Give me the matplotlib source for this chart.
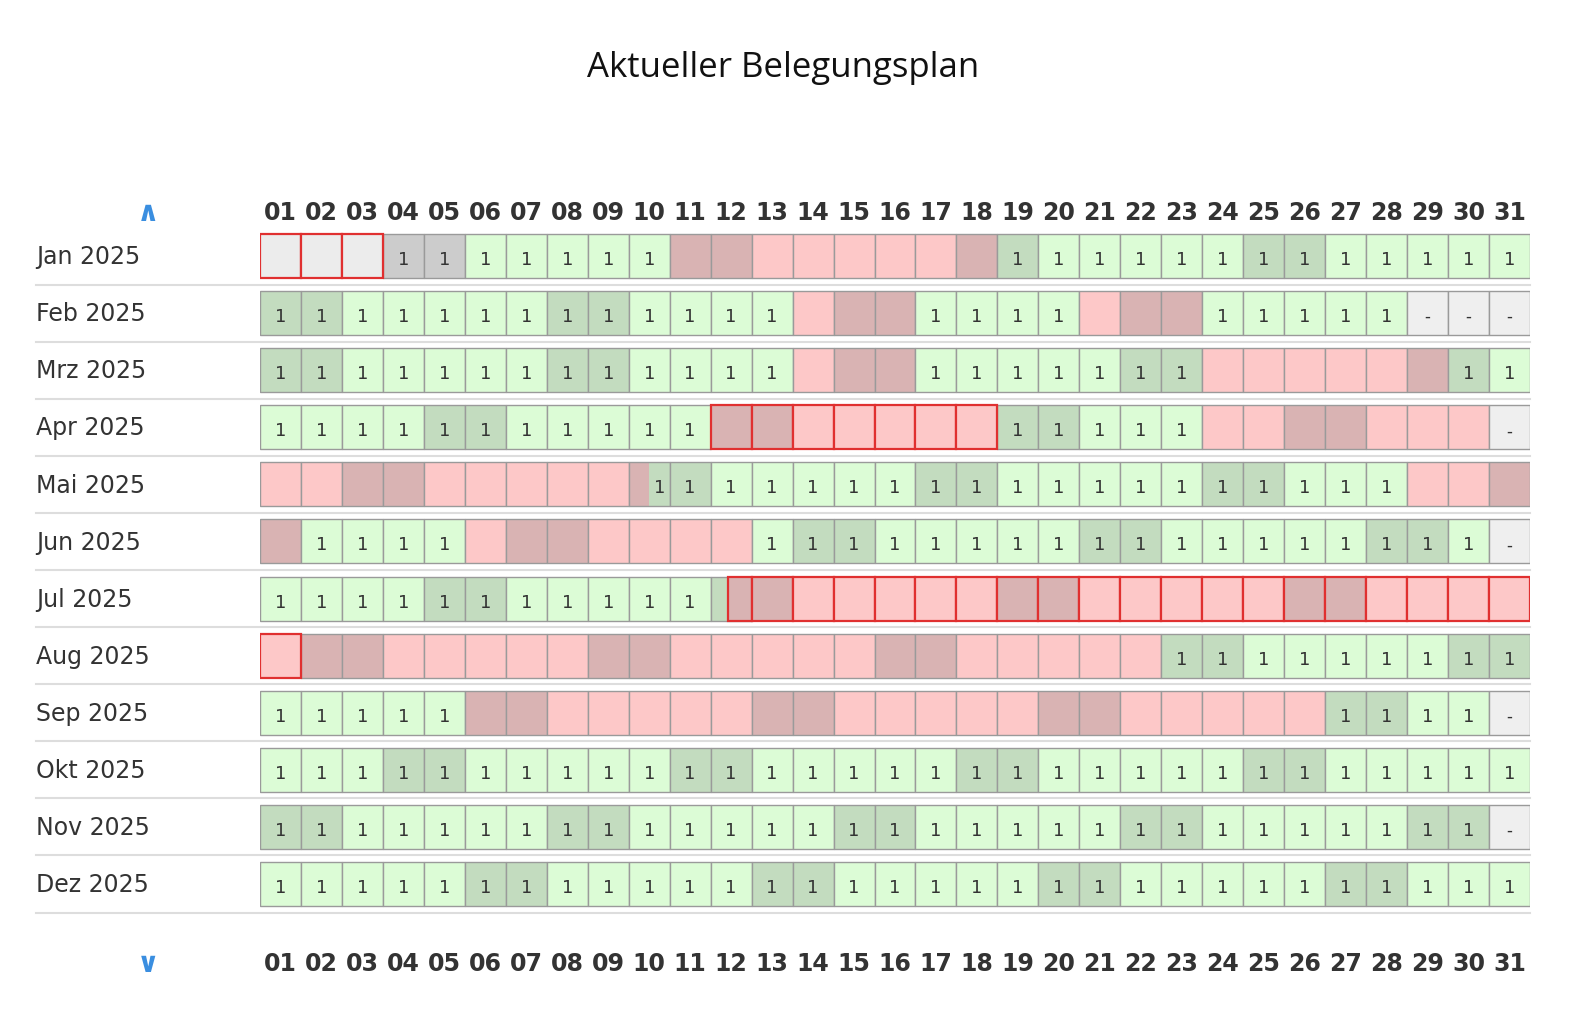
import calendar
import matplotlib
matplotlib.use("Agg")
import matplotlib.pyplot as plt
from matplotlib.patches import Rectangle
from matplotlib.transforms import blended_transform_factory

months = ["Jan 2025", "Feb 2025", "Mrz 2025", "Apr 2025", "Mai 2025", "Jun 2025",
          "Jul 2025", "Aug 2025", "Sep 2025", "Okt 2025", "Nov 2025", "Dez 2025"]
days = [f"{d:02d}" for d in range(1, 32)]
# state per day: 1 free, b booked, p past, g past-free, d depart (booked->free), a arrive (free->booked), - none
states = [
    "ppp gg11111bbbbbbbb1111111111111".replace(" ", ""),
    "1111111111111bbb1111bbb11111---",
    "1111111111111bbb1111111bbbbbb11",
    "11111111111bbbbbbb11111bbbbbbb-",
    "bbbbbbbbbd111111111111111111bbb",
    "b1111bbbbbbb111111111111111111-",
    "11111111111abbbbbbbbbbbbbbbbbbb",
    "bbbbbbbbbbbbbbbbbbbbbb111111111",
    "11111bbbbbbbbbbbbbbbbbbbbb1111-",
    "1111111111111111111111111111111",
    "111111111111111111111111111111-",
    "1111111111111111111111111111111",
]
red_border = {(0, 1), (0, 2), (0, 3), (7, 1)} | {(3, d) for d in range(12, 19)} | {(6, d) for d in range(12, 32)}

C_FREE, C_FREE_WE = "#dcfcd6", "#c3dcbf"
C_BOOK, C_BOOK_WE = "#fdc8c8", "#d9b3b3"
C_PAST, C_GRAY, C_NONE = "#ececec", "#cccccc", "#efefef"
EDGE = "#9a9a9a"

W, H = 1582, 1035
fig = plt.figure(figsize=(W / 100, H / 100), dpi=100)
ax = fig.add_axes([260 / W, 1 - 912.5 / H, 1270 / W, 685 / H])
ax.set_xlim(0.5, 31.5)
ax.set_ylim(11.5, -0.5)
ax.axis("off")
hh = 22 / 57.1

narrow = "Liberation Sans Narrow"
for r, s in enumerate(states):
    for i, ch in enumerate(s):
        d = i + 1
        we = ch != "-" and calendar.weekday(2025, r + 1, d) >= 5
        free = C_FREE_WE if we else C_FREE
        book = C_BOOK_WE if we else C_BOOK
        x0, y0 = d - 0.5, r - hh
        red = (r, d) in red_border
        if ch in "1bpg-":
            fc = {"1": free, "b": book, "p": C_PAST, "g": C_GRAY, "-": C_NONE}[ch]
            ax.add_patch(Rectangle((x0, y0), 1, 2 * hh, fc=fc,
                                   ec="#e03030" if red else EDGE, lw=1.6 if red else 1, zorder=3 if red else 2))
        elif ch == "d":
            ax.add_patch(Rectangle((x0, y0), 0.5, 2 * hh, fc=book, ec="none", zorder=2))
            ax.add_patch(Rectangle((x0 + 0.5, y0), 0.5, 2 * hh, fc=free, ec="none", zorder=2))
            ax.add_patch(Rectangle((x0, y0), 1, 2 * hh, fc="none", ec=EDGE, lw=1, zorder=2))
        elif ch == "a":
            ax.add_patch(Rectangle((x0, y0), 1, 2 * hh, fc=free, ec=EDGE, lw=1, zorder=2))
            ax.add_patch(Rectangle((x0 + 0.42, y0), 0.58, 2 * hh, fc=book,
                                   ec="#e03030" if red else "none", lw=1.6, zorder=3))
        if ch in "1gd":
            ax.text(d + (0.25 if ch == "d" else 0), r + 0.07, "1", ha="center", va="center",
                    fontsize=13, color="#333333", zorder=4)
        elif ch == "-":
            ax.text(d, r + 0.07, "-", ha="center", va="center", fontsize=12, color="#333333", zorder=4)
    ax.axhline(r + 0.5, xmin=(36 - 260) / 1270, xmax=1, color="#dddddd", lw=1.5, clip_on=False, zorder=1)

bt = blended_transform_factory(fig.transFigure, ax.transData)
for r, m in enumerate(months):
    ax.text(36 / W, r + 0.02, m, transform=bt, ha="left", va="center", fontsize=17,
            family=narrow, color="#333333")

for d, lab in enumerate(days, start=1):
    for ypx in (213, 964):
        ax.text(d, 1 - ypx / H, lab, transform=blended_transform_factory(ax.transData, fig.transFigure),
                ha="center", va="center", fontsize=17, family=narrow, weight="bold", color="#333333")

fig.text(148 / W, 1 - 213 / H, "∧", ha="center", va="center", fontsize=20, weight="bold", color="#3a8ee0")
fig.text(148 / W, 1 - 964 / H, "∨", ha="center", va="center", fontsize=20, weight="bold", color="#3a8ee0")
fig.text(783 / W, 1 - 68 / H, "Aktueller Belegungsplan", ha="center", va="center",
         fontsize=25, family="Open Sans", color="#111111")

fig.savefig("out.png", dpi=100, facecolor="white")
